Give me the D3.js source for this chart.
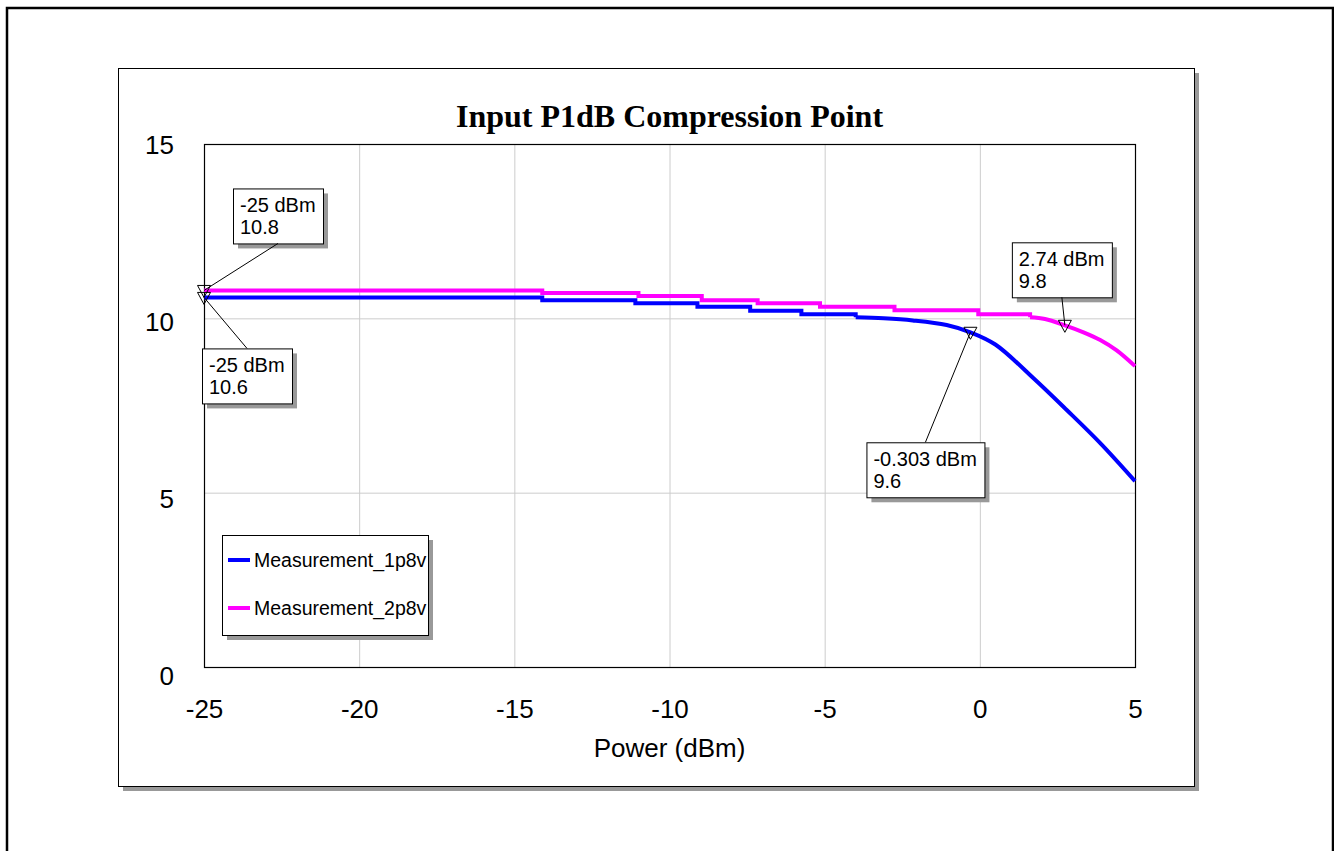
<!DOCTYPE html>
<html><head><meta charset="utf-8">
<script src="https://cdn.jsdelivr.net/npm/d3@7"></script>
<style>body{margin:0;background:#fff;} svg{display:block;}</style>
</head><body><svg id="c" width="1334" height="851"></svg>
<script>
// ---------- data ----------
const title = "Input P1dB Compression Point";
const xTitle = "Power (dBm)";
const xTicks = [-25, -20, -15, -10, -5, 0, 5];
const yTicks = [0, 5, 10, 15];
const seriesNames = ["Measurement_1p8v", "Measurement_2p8v"];

// Measurement_1p8v (blue): stepped part then smooth roll-off
const s1StepX = [-25, -14.1, -11.1, -9.1, -7.4, -5.75, -4.0];
const s1StepY = [10.6, 10.52, 10.43, 10.33, 10.22, 10.12, 10.03];
const s1CurveX = [-4.0, -3.1, -2.16, -1.07, -0.303, 0.5, 1.73, 2.8, 3.88, 5];
const s1CurveY = [10.03, 10.0, 9.94, 9.81, 9.6, 9.25, 8.28, 7.37, 6.42, 5.33];

// Measurement_2p8v (magenta)
const s2StepX = [-25, -14.1, -11.0, -8.96, -7.16, -5.15, -2.75, -0.05, 1.62];
const s2StepY = [10.8, 10.73, 10.64, 10.52, 10.43, 10.33, 10.23, 10.12, 10.03];
const s2CurveX = [1.62, 2.1, 2.74, 3.34, 3.88, 4.41, 5];
const s2CurveY = [10.03, 9.98, 9.8, 9.6, 9.38, 9.08, 8.63];

// markers
const markerX = [-25, -25, -0.303, 2.74];
const markerY = [10.8, 10.6, 9.6, 9.8];
const markerLine1 = ["-25 dBm", "-25 dBm", "-0.303 dBm", "2.74 dBm"];
const markerLine2 = ["10.8", "10.6", "9.6", "9.8"];

// ---------- layout / style ----------
const colors = ["#0000ff", "#ff00ff"];
const boxOffset = [[29, -102, "bottom"], [-2, 51, "top"], [-104, 110, "top"], [-53, -83, "bottom"]];
const plot = {left: 204, right: 1135, top: 144, bottom: 667};
const sans = "Arial, 'Liberation Sans', Helvetica, sans-serif";
const serif = "'Times New Roman', 'Liberation Serif', serif";

const svg = d3.select("#c");
const x = d3.scaleLinear().domain([-25, 5]).range([plot.left, plot.right]);
const y = d3.scaleLinear().domain([0, 15]).range([plot.bottom, plot.top]);
const fmt = d => String(d);

// outer border
svg.append("rect").attr("x", 7).attr("y", 8).attr("width", 1326).attr("height", 900)
  .attr("fill", "none").attr("stroke", "#000").attr("stroke-width", 2.5);

// inner frame with shadow
svg.append("rect").attr("x", 123).attr("y", 73).attr("width", 1076).attr("height", 718).attr("fill", "#999");
svg.append("rect").attr("x", 118.5).attr("y", 68.5).attr("width", 1076).attr("height", 718)
  .attr("fill", "#fff").attr("stroke", "#000").attr("stroke-width", 1);

// title
svg.append("text").attr("x", (plot.left + plot.right) / 2).attr("y", 127)
  .attr("text-anchor", "middle").attr("font-family", serif).attr("font-weight", "bold")
  .attr("font-size", 32).text(title);

// grid
const gx = svg.append("g").attr("transform", `translate(0,${plot.bottom})`)
  .call(d3.axisBottom(x).tickValues(xTicks).tickSize(-(plot.bottom - plot.top)).tickFormat(""));
gx.select(".domain").remove();
gx.selectAll("line").attr("stroke", "#cccccc").attr("stroke-width", 1);
const gy = svg.append("g").attr("transform", `translate(${plot.left},0)`)
  .call(d3.axisLeft(y).tickValues(yTicks).tickSize(-(plot.right - plot.left)).tickFormat(""));
gy.select(".domain").remove();
gy.selectAll("line").attr("stroke", "#cccccc").attr("stroke-width", 1);

// tick labels
const xa = svg.append("g").attr("transform", `translate(0,${plot.bottom})`)
  .call(d3.axisBottom(x).tickValues(xTicks).tickSize(0).tickPadding(0).tickFormat(fmt));
xa.select(".domain").remove();
xa.selectAll("text").attr("font-family", sans).attr("font-size", 26).attr("fill", "#000")
  .attr("dy", null).attr("y", 51);
const ya = svg.append("g").attr("transform", `translate(${plot.left},0)`)
  .call(d3.axisLeft(y).tickValues(yTicks).tickSize(0).tickPadding(0).tickFormat(fmt));
ya.select(".domain").remove();
ya.selectAll("text").attr("font-family", sans).attr("font-size", 26).attr("fill", "#000")
  .attr("x", -30).attr("dy", null).attr("y", d => 9.5 + (15 - d) * 0.55);

// axis title
svg.append("text").attr("x", (plot.left + plot.right) / 2).attr("y", 757)
  .attr("text-anchor", "middle").attr("font-family", sans).attr("font-size", 26).text(xTitle);

// plot border
svg.append("rect").attr("x", plot.left + 0.5).attr("y", plot.top + 0.5)
  .attr("width", plot.right - plot.left).attr("height", plot.bottom - plot.top)
  .attr("fill", "none").attr("stroke", "#000").attr("stroke-width", 1.2);

// series
const stepLine = d3.line().x(d => x(d[0])).y(d => y(d[1])).curve(d3.curveStepAfter);
const smoothLine = d3.line().x(d => x(d[0])).y(d => y(d[1])).curve(d3.curveCatmullRom.alpha(0.5));
const series = [
  {sx: s1StepX, sy: s1StepY, cx: s1CurveX, cy: s1CurveY},
  {sx: s2StepX, sy: s2StepY, cx: s2CurveX, cy: s2CurveY}
];
const gl = svg.append("g");
[1, 0].forEach(i => {
  const s = series[i];
  const g = gl.append("g").attr("fill", "none").attr("stroke", colors[i])
    .attr("stroke-width", 4).attr("stroke-linejoin", "miter");
  g.append("path").attr("d", stepLine(s.sx.map((v, k) => [v, s.sy[k]])));
  g.append("path").attr("d", smoothLine(s.cx.map((v, k) => [v, s.cy[k]])));
});

// markers and labels
const gm = svg.append("g");
markerX.forEach((mx, i) => {
  const px = x(mx), py = y(markerY[i]);
  const [dx, dy, side] = boxOffset[i];
  const bx = px + dx, by = py + dy;
  const grp = gm.append("g");
  const t1 = grp.append("text").attr("font-family", sans).attr("font-size", 20)
    .attr("x", bx + 7).attr("y", by + 24).text(markerLine1[i]);
  const t2 = grp.append("text").attr("font-family", sans).attr("font-size", 20)
    .attr("x", bx + 7).attr("y", by + 46).text(markerLine2[i]);
  const w = Math.ceil(Math.max(t1.node().getBBox().width, t2.node().getBBox().width)) + 14;
  const h = 55;
  grp.insert("rect", "text").attr("x", bx + 0.5).attr("y", by + 0.5).attr("width", w).attr("height", h)
    .attr("fill", "#fff").attr("stroke", "#000").attr("stroke-width", 1);
  grp.insert("rect", "rect").attr("x", bx + 5).attr("y", by + 5).attr("width", w).attr("height", h)
    .attr("fill", "#999");
  const ax = bx + w / 2, ay = side === "bottom" ? by + h : by;
  gm.append("line").attr("x1", ax).attr("y1", ay).attr("x2", px).attr("y2", py)
    .attr("stroke", "#000").attr("stroke-width", 1);
  gm.append("path")
    .attr("d", `M${px - 6.5},${py - 5} L${px + 6.5},${py - 5} L${px},${py + 7} Z`)
    .attr("fill", "none").attr("stroke", "#000").attr("stroke-width", 1);
});

// legend
const lg = svg.append("g");
const lx = 222, ly = 535, lw = 206, lh = 100;
lg.append("rect").attr("x", lx + 5).attr("y", ly + 5).attr("width", lw).attr("height", lh).attr("fill", "#999");
lg.append("rect").attr("x", lx + 0.5).attr("y", ly + 0.5).attr("width", lw).attr("height", lh)
  .attr("fill", "#fff").attr("stroke", "#000").attr("stroke-width", 1);
seriesNames.forEach((n, i) => {
  const yy = ly + 25 + i * 48;
  lg.append("line").attr("x1", lx + 6).attr("x2", lx + 28).attr("y1", yy).attr("y2", yy)
    .attr("stroke", colors[i]).attr("stroke-width", 4);
  lg.append("text").attr("x", lx + 32).attr("y", yy + 7).attr("font-family", sans)
    .attr("font-size", 19.5).text(n);
});
</script>
</body></html>
